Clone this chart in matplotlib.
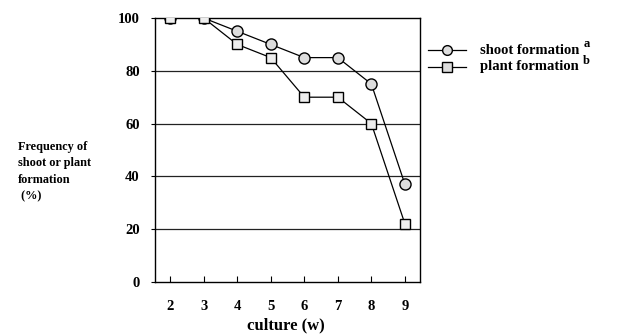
import matplotlib
matplotlib.use("Agg")
import matplotlib.pyplot as plt

weeks = [2, 3, 4, 5, 6, 7, 8, 9]
shoot = [100, 100, 95, 90, 85, 85, 75, 37]
plant = [100, 100, 90, 85, 70, 70, 60, 22]
yticks = [0, 20, 40, 60, 80, 100]

plt.rcParams['font.family'] = ['Liberation Serif', 'DejaVu Serif']
plt.rcParams['font.weight'] = 'bold'

fig = plt.figure(figsize=(6.25, 3.34), dpi=100)
ax = fig.add_axes([0.248, 0.156, 0.424, 0.790])
ax.set_xlim(1.55, 9.45)
ax.set_ylim(0, 100)

for v in yticks[1:-1]:
    ax.axhline(v, color='#222222', lw=0.9, zorder=1)

ax.plot(weeks, shoot, color='black', lw=0.9, marker='o', ms=8,
        mfc='#dddddd', mec='black', mew=1.0, zorder=3)
ax.plot(weeks, plant, color='black', lw=0.9, marker='s', ms=7,
        mfc='#eeeeee', mec='black', mew=1.0, zorder=4)

for s in ax.spines.values():
    s.set_linewidth(1.0)

ax.set_xticks(weeks)
ax.set_xticklabels([str(w) for w in weeks], fontsize=10.5, fontweight='bold')
ax.set_yticks(yticks)
ax.set_yticklabels([str(v) for v in yticks], fontsize=10.5, fontweight='bold')
ax.tick_params(axis='x', direction='in', length=4, pad=13, top=False)
ax.tick_params(axis='y', direction='out', length=3, pad=8, right=False)

fig.text(0.029, 0.578, "Frequency of\nshoot or plant\nformation\n (%)", fontsize=8.8,
         fontweight='bold', ha='left', va='top', linespacing=1.5)
fig.text(0.457, 0.025, "culture (w)", fontsize=12, fontweight='bold', ha='center', va='center')

# legend
fig.canvas.draw()
renderer = fig.canvas.get_renderer()
for y, mk, label, sup in [(0.85, 'o', 'shoot formation', 'a'), (0.80, 's', 'plant formation', 'b')]:
    fig.add_artist(plt.Line2D([0.685, 0.745], [y, y], color='black', lw=0.9,
                              transform=fig.transFigure))
    fig.add_artist(plt.Line2D([0.715], [y], marker=mk, ms=7 if mk == 'o' else 6.5,
                              mfc='#dddddd', mec='black', mew=1.0,
                              transform=fig.transFigure))
    t = fig.text(0.768, y, label, fontsize=10.5, fontweight='bold', ha='left', va='center')
    bb = t.get_window_extent(renderer=renderer)
    x_end = bb.x1 / fig.bbox.width
    fig.text(x_end + 0.006, y + 0.018, sup, fontsize=9, fontweight='bold', ha='left', va='center')

fig.savefig("out.png", dpi=100)
